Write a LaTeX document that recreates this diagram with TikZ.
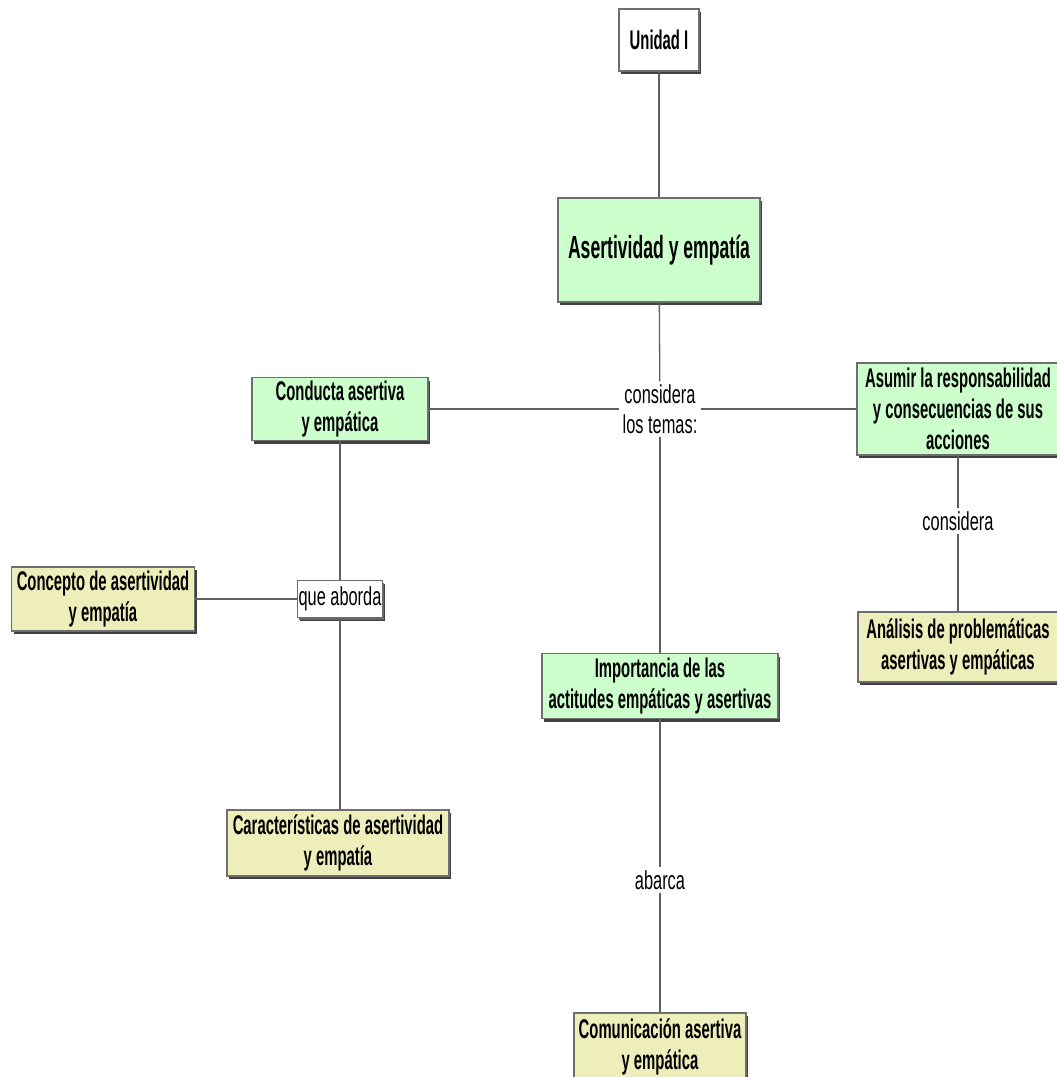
\documentclass[tikz,border=0pt]{standalone}
\usepackage{fontspec}
\setmainfont{Liberation Sans}
\newfontfamily\bxfont[FakeStretch=0.55]{Liberation Sans}
\newfontfamily\lbfont[FakeStretch=0.63]{Liberation Sans}
\usetikzlibrary{shadows}
\definecolor{boxgreen}{RGB}{204,255,204}
\definecolor{boxyellow}{RGB}{238,238,187}
\definecolor{linegray}{RGB}{95,95,95}
\definecolor{bordergray}{RGB}{110,110,110}
\begin{document}
\begin{tikzpicture}[x=1pt,y=-1pt,
  box/.style={draw=bordergray, line width=1.2pt, inner sep=0pt, align=center,
    font=\bxfont\bfseries\fontsize{27}{31}\selectfont,
    drop shadow={shadow xshift=2pt, shadow yshift=-3pt, fill=black!75, opacity=1}},
  gbox/.style={box, fill=boxgreen},
  ybox/.style={box, fill=boxyellow},
  wbox/.style={box, fill=white},
  lbl/.style={inner sep=3pt, align=center, font=\lbfont\fontsize{26}{30}\selectfont},
  conn/.style={draw=linegray, line width=1.3pt}]
\useasboundingbox (0,0) rectangle (1057,1077);
\clip (0,0) rectangle (1057,1077);

\node[wbox, minimum width=80pt, minimum height=62pt] (unidad) at (659,40) {Unidad I};
\node[gbox, minimum width=202pt, minimum height=104pt, font=\bxfont\bfseries\fontsize{32}{36}\selectfont] (aser) at (659,250) {Asertividad y empatía};
\node[lbl] (ct) at (660,409) {considera\\los temas:};
\node[gbox, minimum width=176pt, minimum height=63pt] (cond) at (340,409) {Conducta asertiva\\y empática};
\node[gbox, minimum width=202pt, minimum height=92pt] (asum) at (958,409) {Asumir la responsabilidad\\y consecuencias de sus\\acciones};
\node[lbl] (cons) at (958,521) {considera};
\node[ybox, minimum width=200pt, minimum height=70pt] (anal) at (958,647) {Análisis de problemáticas\\asertivas y empáticas};
\node[wbox, minimum width=85pt, minimum height=37pt, font=\lbfont\fontsize{26}{30}\selectfont, drop shadow={shadow xshift=1.5pt, shadow yshift=-2pt, fill=black!60, opacity=1}] (qa) at (340,599) {que aborda};
\node[ybox, minimum width=183pt, minimum height=64pt] (conc) at (103,599) {Concepto de asertividad\\y empatía};
\node[ybox, minimum width=222pt, minimum height=66pt] (car) at (338,843) {Características de asertividad\\y empatía};
\node[gbox, minimum width=236pt, minimum height=65pt] (imp) at (660,686) {Importancia de las\\actitudes empáticas y asertivas};
\node[lbl] (abar) at (660,880) {abarca};
\node[ybox, minimum width=172pt, minimum height=68pt] (com) at (660,1047) {Comunicación asertiva\\y empática};

\draw[conn] (unidad) -- (aser);
\draw[conn] (aser) -- (ct);
\draw[conn] (ct) -- (imp);
\draw[conn] (cond) -- (ct);
\draw[conn] (ct) -- (asum);
\draw[conn] (asum) -- (cons);
\draw[conn] (cons) -- (anal);
\draw[conn] (cond) -- (qa);
\draw[conn] (qa.south) -- (qa.south |- car.north);
\draw[conn] (conc) -- (qa);
\draw[conn] (imp) -- (abar);
\draw[conn] (abar) -- (com);
\end{tikzpicture}
\end{document}
